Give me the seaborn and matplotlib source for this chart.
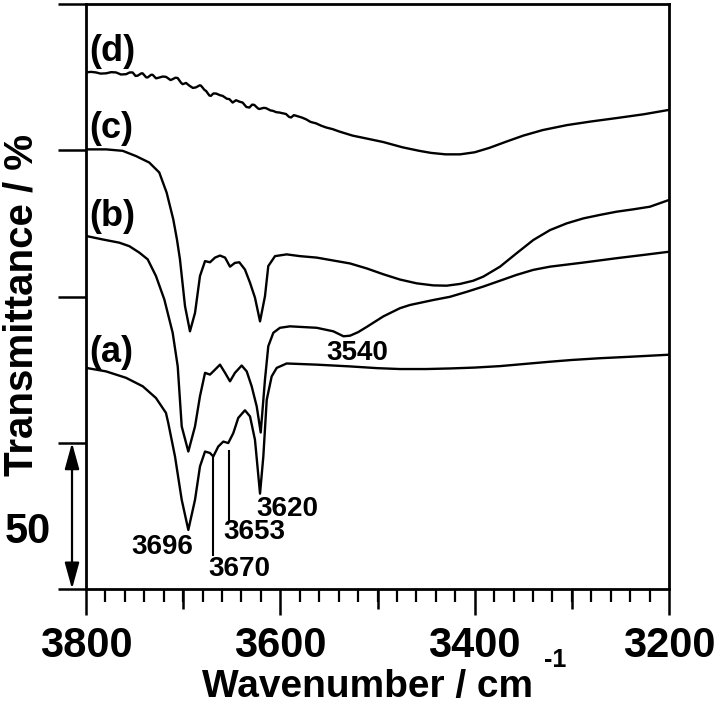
import matplotlib
matplotlib.use("Agg")
import matplotlib.pyplot as plt
from matplotlib.ticker import MultipleLocator
import seaborn as sns

# IR spectra (OH stretching region), offset transmittance
wn_a = [3800, 3779.4, 3758.8, 3741.6, 3728.0, 3717.7, 3715.3, 3708.4, 3701.5, 3694.7,
        3687.8, 3682.7, 3677.5, 3672.4, 3669.0, 3663.9, 3658.7, 3653.6, 3648.4, 3643.3,
        3636.4, 3631.2, 3626.1, 3620.9, 3617.5, 3614.0, 3608.9, 3603.7, 3593.5, 3562.6,
        3528.3, 3500, 3476.9, 3450, 3425.4, 3400, 3373.9, 3350, 3322.5, 3300, 3271.0,
        3240, 3200]
tr_a = [75.6, 74.4, 72.2, 69.3, 65.3, 60.2, 56.7, 45.3, 30.5, 20.2,
        30.5, 41.9, 47.0, 46.5, 45.3, 48.7, 50.4, 49.9, 53.3, 58.5,
        61.1, 59.0, 51.0, 32.6, 45.3, 64.7, 72.7, 75.6, 77.1, 76.7,
        76.1, 75.5, 75.2, 75.2, 75.4, 75.7, 76.2, 76.9, 77.7, 78.3, 78.9,
        79.4, 80.1]

wn_b = [3800, 3782.8, 3765.7, 3755.4, 3745.1, 3736.5, 3728.0, 3719.4, 3710.8, 3705.6,
        3701.5, 3694.7, 3687.8, 3682.7, 3677.5, 3672.4, 3667.2, 3662.1, 3656.9, 3651.8,
        3646.7, 3639.8, 3634.6, 3629.5, 3624.3, 3620.2, 3615.8, 3612.4, 3607.2, 3600.4,
        3590.1, 3562.6, 3545.5, 3535.0, 3528.3, 3520.0, 3511.1, 3494.0, 3476.9, 3466.6,
        3442.6, 3425.4, 3408.2, 3391.1, 3373.9, 3356.8, 3339.7, 3322.5, 3288.2, 3253.8,
        3226.5, 3200]
tr_b = [120.7, 119.5, 118.4, 117.2, 115.0, 112.7, 107.0, 99.0, 87.6, 76.1,
        55.6, 47.0, 55.6, 65.9, 73.9, 73.3, 75.0, 76.7, 73.9, 71.0,
        73.9, 76.4, 74.4, 69.3, 62.4, 53.5, 71.6, 83.0, 87.6, 89.3,
        89.8, 89.3, 88.1, 86.4, 86.6, 87.8, 89.6, 93.2, 96.0, 97.1,
        98.8, 99.9, 101.6, 103.4, 105.4, 107.4, 109.1, 110.2, 111.6, 113.1,
        114.2, 115.3]

wn_c = [3800, 3779.4, 3762.2, 3748.5, 3734.9, 3724.6, 3717.0, 3710.2, 3706.4, 3703.3,
        3698.1, 3693.0, 3687.8, 3682.7, 3677.5, 3672.4, 3667.2, 3662.1, 3656.9, 3651.8,
        3646.7, 3642.2, 3636.4, 3631.2, 3626.1, 3620.9, 3615.8, 3612.4, 3605.5, 3593.5,
        3579.8, 3562.6, 3528.3, 3511.1, 3494.0, 3476.9, 3459.7, 3442.6, 3428.8, 3415.1,
        3401.4, 3391.1, 3373.9, 3356.8, 3339.7, 3322.5, 3305.3, 3288.2, 3271.0, 3253.8,
        3236.8, 3219.6, 3200]
tr_c = [150.3, 150.3, 149.8, 148.0, 145.8, 142.4, 135.5, 126.4, 119.5, 112.7,
        96.7, 88.1, 94.4, 107.0, 112.1, 111.7, 113.3, 114.0, 113.3, 110.2,
        111.5, 111.7, 109.2, 104.7, 99.6, 91.5, 100.1, 110.4, 113.8, 114.4,
        113.8, 113.3, 111.3, 109.6, 107.6, 105.8, 104.5, 103.8, 103.7, 104.3,
        105.4, 106.8, 110.2, 114.8, 119.3, 122.7, 125.0, 126.7, 127.9, 129.0,
        129.8, 130.7, 133.0]

wn_d = [3800, 3795, 3789.7, 3785, 3779.4, 3774, 3769.1, 3764, 3758.8, 3755,
        3752, 3749, 3746.8, 3743, 3741.7, 3738, 3736.5, 3733, 3731.4, 3728,
        3726.3, 3721, 3717.7, 3713, 3710.8, 3708, 3705.7, 3702, 3700.5, 3697,
        3693.7, 3690, 3686.8, 3683, 3681.7, 3678, 3676.5, 3673, 3671.4, 3669,
        3666.2, 3662, 3659.4, 3655, 3652.5, 3649.1, 3645.6, 3642, 3638.8, 3635,
        3631.9, 3629, 3626.8, 3623, 3621.6, 3617, 3614.8, 3610, 3607.9, 3604,
        3601, 3597, 3594.2, 3591, 3589, 3586, 3583.9, 3578, 3573.6, 3569,
        3566.8, 3563.3, 3558, 3553, 3546, 3539.3, 3525.6, 3511.1, 3494, 3474.2,
        3457, 3445, 3430, 3415, 3400, 3385, 3367, 3350, 3330, 3305,
        3281, 3254, 3226, 3200]
tr_d = [176.6, 176.8, 176.6, 176.2, 176.3, 176.7, 176.6, 175.9, 176.0, 176.6,
        176.6, 175.4, 175.5, 176.3, 176.3, 174.9, 174.9, 175.8, 175.8, 174.6,
        174.7, 175.2, 175.1, 174.0, 174.3, 174.8, 174.7, 173.0, 172.6, 173.0,
        172.1, 171.3, 171.5, 172.2, 172.1, 170.6, 170.3, 168.7, 168.6, 169.4,
        169.4, 168.8, 168.6, 167.6, 167.5, 166.3, 167.1, 166.6, 166.3, 164.8,
        164.6, 165.6, 165.5, 164.3, 164.1, 164.5, 164.4, 163.6, 163.5, 163.0,
        162.9, 162.6, 162.4, 161.4, 161.2, 162.0, 161.8, 161.2, 160.6, 159.7,
        159.5, 159.2, 158.4, 157.8, 157.2, 156.4, 155.0, 154.0, 152.8, 151.0,
        149.8, 149.1, 148.6, 148.6, 149.3, 150.8, 153.0, 155.0, 156.9, 158.6,
        159.8, 161.0, 162.3, 163.8]

series = [(wn_a, tr_a), (wn_b, tr_b), (wn_c, tr_c), (wn_d, tr_d)]
curve_names = ["(a)", "(b)", "(c)", "(d)"]
curve_label_y = [81.0, 127.5, 157.3, 183.6]

peak_text = ["3696", "3670", "3653", "3620", "3540"]
peak_text_x = [3721, 3642, 3627, 3593, 3521]
peak_text_y = [14.4, 6.8, 19.4, 27.2, 80.7]
# vertical marker lines for the shoulders of (a)
mark_wn = [3669, 3653]
mark_top = [45.2, 47.5]
mark_bottom = [11.3, 23.2]

sns.set_style("ticks")
plt.rcParams["font.family"] = ["Liberation Sans", "DejaVu Sans"]
plt.rcParams["font.weight"] = "bold"
for key in ["text.color", "axes.labelcolor", "xtick.color", "ytick.color", "axes.edgecolor"]:
    plt.rcParams[key] = "black"

fig = plt.figure(figsize=(7.22, 7.23), dpi=100)
ax = fig.add_axes([86 / 722, 1 - 589 / 723, 583 / 722, 585 / 723])

for wn, tr in series:
    sns.lineplot(x=wn, y=tr, ax=ax, color="black", lw=1.7, sort=False, estimator=None)

ax.set_xlim(3800, 3200)
ax.set_ylim(0, 200)
ax.set_xticks([3800, 3600, 3400, 3200])
ax.xaxis.set_minor_locator(MultipleLocator(20))
ax.set_yticks([0, 50, 100, 150, 200])
ax.set_yticklabels([])
ax.set_xlabel("")
ax.set_ylabel("")
ax.tick_params(axis="x", which="major", length=18.7, width=1.8, labelsize=30, pad=8)
ax.tick_params(axis="x", which="minor", length=9.4, width=1.6)
ax.tick_params(axis="y", which="major", length=20.2, width=1.8)
ax.tick_params(axis="y", which="minor", left=False)
for sp in ax.spines.values():
    sp.set_linewidth(2.0)

# medium ticks every 100 cm-1
sec = ax.secondary_xaxis("bottom")
sec.set_xticks([3700, 3500, 3300])
sec.tick_params(length=14.4, width=1.8, labelbottom=False)
sec.spines["bottom"].set_visible(False)

for name, yy in zip(curve_names, curve_label_y):
    ax.text(3797, yy, name, fontsize=26, ha="left", va="center")

for t, x, y in zip(peak_text, peak_text_x, peak_text_y):
    ax.text(x, y, t, fontsize=20, ha="center", va="center")
ax.vlines(mark_wn, mark_bottom, mark_top, color="black", lw=1.5)

# 50 % scale bar
ax.annotate("", xy=(-0.024, 0), xycoords=("axes fraction", "data"),
            xytext=(-0.024, 50), textcoords=("axes fraction", "data"),
            arrowprops=dict(arrowstyle="<|-|>,head_length=0.8,head_width=0.22",
                            color="black", lw=1.6, shrinkA=0, shrinkB=0, mutation_scale=20),
            annotation_clip=False)
fig.text(28 / 722, 1 - 532 / 723, "50", fontsize=30, ha="center", va="center")

fig.text(22 / 722, 1 - 304.5 / 723, "Transmittance / %", rotation=90,
         fontsize=29, ha="center", va="center")
fig.text(368 / 722, 1 - 687 / 723, "Wavenumber / cm", fontsize=28, ha="center", va="center")
fig.text(555 / 722, 1 - 660 / 723, "-1", fontsize=18, ha="center", va="center")

fig.savefig("out.png", dpi=100)
